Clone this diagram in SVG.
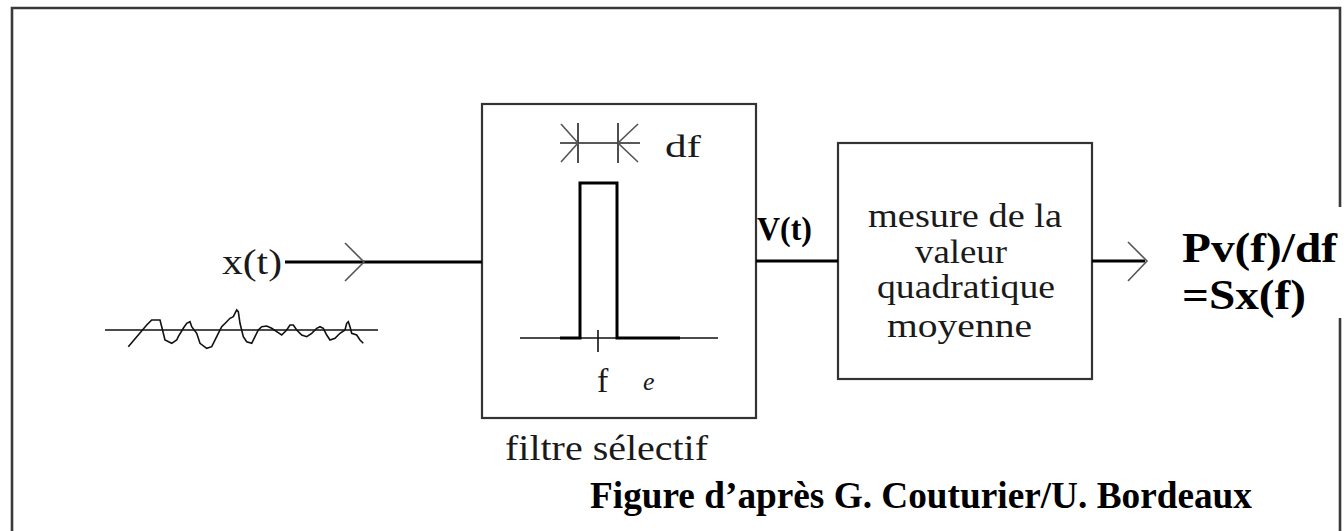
<svg xmlns="http://www.w3.org/2000/svg" width="1344" height="531" viewBox="0 0 1344 531">
<style>
text{font-family:'Liberation Serif','Times New Roman',Times,serif}
.t{fill:#1a1a1a}
.b{font-weight:bold;fill:#000}
.box{fill:none;stroke:#333;stroke-width:2.2}
.wire{fill:none;stroke:#000;stroke-width:3.2}
.chev{fill:none;stroke:#555;stroke-width:1.6}
.thin{fill:none;stroke:#111;stroke-width:1.6}
</style>
<rect width="1344" height="531" fill="#fff"/>
<path id="frame" d="M12,531 V8 H1340 V207 M1340,318 V531" fill="none" stroke="#3a3a3a" stroke-width="2.6"/>
<g id="input">
<text class="t" x="222" y="274" font-size="36" textLength="60" lengthAdjust="spacingAndGlyphs">x(t)</text>
<line class="thin" x1="105" y1="330" x2="378" y2="330"/>
<polyline class="thin" stroke-width="2" points="128.3,346.7 146.7,325 151.7,320 160,320 161.7,326.7 165,340 171.7,343.3 176.7,340 178.3,336.7 183.3,328.3 186.7,323.3 190,321.7 191.7,326.7 196.7,333.3 200,343.3 206.7,348.3 211.7,346.7 216.7,336.7 221.7,326.7 226.7,321.7 230,318.3 233.3,316.7 236.7,310 238.3,311.7 240,323.3 243.3,336.7 246.7,341.7 251.7,343.3 255,336.7 258.3,330 261.7,326.7 266.7,326 271.7,328.3 276.7,331.7 281.7,335 286.7,330 290,325 293.3,325 296.7,330 301.7,335 306.7,336.7 311.7,333.3 316.7,328.3 320,326.7 323.3,328.3 326.7,335 330,340 335,338.3 340,333.3 345,330 346.7,323.3 348.3,321.7 350,326.7 351.7,333.3 356.7,335 360,340 363.3,343.3"/>
</g>
<g id="filter">
<rect class="box" x="482" y="104" width="274" height="314"/>
<g class="chev">
<line x1="560" y1="143" x2="640" y2="143" stroke="#222"/>
<line x1="578" y1="123" x2="578" y2="163" stroke="#222"/>
<line x1="618" y1="123" x2="618" y2="163" stroke="#222"/>
<polyline points="561,124 578,143 561,162"/>
<polyline points="638,124 618,143 638,162"/>
</g>
<text class="t" x="665" y="157" font-size="32" textLength="36" lengthAdjust="spacingAndGlyphs">df</text>
<line class="thin" x1="520" y1="338" x2="718" y2="338"/>
<polyline fill="none" stroke="#000" stroke-width="3" points="560,338 580,338 580,183 617,183 617,338 680,338"/>
<line class="thin" x1="598" y1="330" x2="598" y2="352"/>
<text class="t" x="597" y="392" font-size="34">f</text>
<text class="t" x="643" y="390" font-size="26" font-style="italic">e</text>
<text class="t" x="505" y="460" font-size="35" textLength="203" lengthAdjust="spacingAndGlyphs">filtre sélectif</text>
</g>
<g id="mesure">
<rect class="box" x="838" y="143" width="254" height="236"/>
<text class="t" x="868" y="227" font-size="34" textLength="194" lengthAdjust="spacingAndGlyphs">mesure de la</text>
<text class="t" x="915" y="263" font-size="34" textLength="92" lengthAdjust="spacingAndGlyphs">valeur</text>
<text class="t" x="877" y="298" font-size="34" textLength="178" lengthAdjust="spacingAndGlyphs">quadratique</text>
<text class="t" x="887" y="337" font-size="34" textLength="145" lengthAdjust="spacingAndGlyphs">moyenne</text>
</g>
<g id="connectors">
<line class="wire" x1="285" y1="262" x2="482" y2="262"/>
<polyline class="chev" points="345,243 364,262 345,281"/>
<line class="wire" x1="756" y1="261" x2="838" y2="261"/>
<line class="wire" x1="1092" y1="261" x2="1145" y2="261"/>
<polyline class="chev" points="1128,242 1147,261 1128,281"/>
</g>
<g id="vlabel">
<text class="b" x="757" y="240" font-size="34" textLength="55" lengthAdjust="spacingAndGlyphs">V(t)</text>
</g>
<g id="output">
<text class="b" x="1182" y="262" font-size="42" textLength="155" lengthAdjust="spacingAndGlyphs">Pv(f)/df</text>
<text class="b" x="1182" y="309" font-size="42" textLength="124" lengthAdjust="spacingAndGlyphs">=Sx(f)</text>
</g>
<g id="caption">
<text class="b" x="590" y="508" font-size="37" textLength="662" lengthAdjust="spacingAndGlyphs">Figure d’après G. Couturier/U. Bordeaux</text>
</g>
</svg>
